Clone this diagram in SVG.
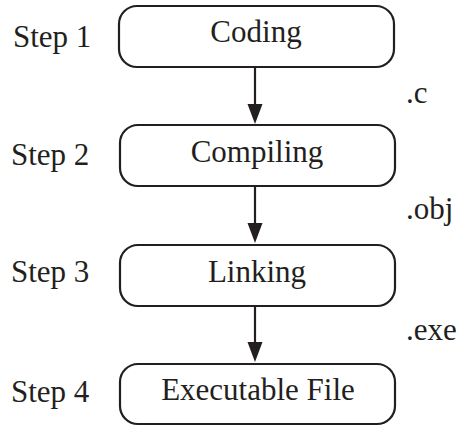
<svg xmlns="http://www.w3.org/2000/svg" width="458" height="426" viewBox="0 0 458 426">
<defs>
<style>
.box{fill:#fff;stroke:#231f20;stroke-width:2.2}
.t{font-family:'Liberation Serif','Times New Roman','DejaVu Serif',serif;font-size:31px;fill:#231f20}
.c{text-anchor:middle}
.ln{stroke:#231f20;stroke-width:2.2;fill:none}
.ah{fill:#231f20}
</style>
</defs>
<rect width="458" height="426" fill="#fff"/>
<g id="labels">
<text class="t" x="13" y="47">Step 1</text>
<text class="t" x="11" y="165">Step 2</text>
<text class="t" x="11" y="282">Step 3</text>
<text class="t" x="11" y="402">Step 4</text>
<text class="t" x="406" y="103">.c</text>
<text class="t" x="406" y="219">.obj</text>
<text class="t" x="406" y="340">.exe</text>
</g>
<g id="connectors">
<line class="ln" x1="255" y1="67" x2="255" y2="106"/>
<polygon class="ah" points="247.5,104 262.5,104 255,124"/>
<line class="ln" x1="255" y1="186" x2="255" y2="225"/>
<polygon class="ah" points="247.5,223 262.5,223 255,243"/>
<line class="ln" x1="255" y1="306" x2="255" y2="344"/>
<polygon class="ah" points="247.5,342 262.5,342 255,362"/>
</g>
<g id="coding">
<rect class="box" x="119" y="6" width="275" height="61" rx="18"/>
<text class="t c" x="256" y="42">Coding</text>
</g>
<g id="compiling">
<rect class="box" x="120" y="125" width="275" height="61" rx="18"/>
<text class="t c" x="257" y="162">Compiling</text>
</g>
<g id="linking">
<rect class="box" x="120" y="245" width="275" height="61" rx="18"/>
<text class="t c" x="257" y="282">Linking</text>
</g>
<g id="executable">
<rect class="box" x="120" y="364" width="275" height="60" rx="18"/>
<text class="t c" x="258" y="400">Executable File</text>
</g>
</svg>
